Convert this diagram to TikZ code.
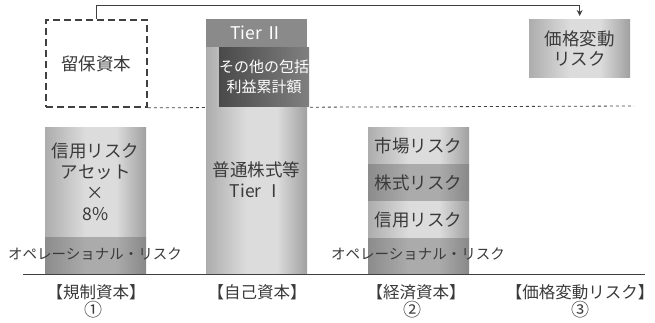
\documentclass[tikz,border=0pt]{standalone}
\usepackage{fontspec}
\setmainfont{Noto Sans CJK JP}
\usetikzlibrary{arrows.meta}
\definecolor{txt}{HTML}{3A3A3A}
\definecolor{lightL}{HTML}{ADADAD}
\definecolor{lightM}{HTML}{DCDCDC}
\definecolor{lightR}{HTML}{A0A0A0}
\definecolor{midL}{HTML}{8C8C8C}
\definecolor{midM}{HTML}{ABABAB}
\definecolor{midR}{HTML}{888888}
\definecolor{darkL}{HTML}{4A4A4A}
\definecolor{darkR}{HTML}{808080}
\definecolor{tierband}{HTML}{8A8A8A}
\definecolor{linecol}{HTML}{404040}
\pgfdeclarehorizontalshading{lightsh}{100bp}{color(0bp)=(lightL); color(25bp)=(lightL); color(45bp)=(lightM); color(60bp)=(lightM); color(75bp)=(lightR); color(100bp)=(lightR)}
\pgfdeclarehorizontalshading{midsh}{100bp}{color(0bp)=(midL); color(25bp)=(midL); color(45bp)=(midM); color(60bp)=(midM); color(75bp)=(midR); color(100bp)=(midR)}
\pgfdeclarehorizontalshading{darksh}{100bp}{color(0bp)=(darkL); color(25bp)=(darkL); color(75bp)=(darkR); color(100bp)=(darkR)}
\begin{document}
\begin{tikzpicture}[x=1pt,y=-1pt,
  blk/.style={rectangle, inner sep=0pt, anchor=north west, text=txt, align=center, minimum width=101},
  lightblk/.style={blk, shading=lightsh},
  midblk/.style={blk, shading=midsh},
  big/.style={font=\fontsize{17.5}{21}\selectfont},
  small/.style={font=\fontsize{14.5}{18}\selectfont},
  lab/.style={font=\fontsize{16.5}{18}\selectfont, text=txt, inner sep=0pt},
  num/.style={font=\fontsize{18}{18}\selectfont, text=txt, inner sep=0pt}
]
\useasboundingbox (0,0) rectangle (655,323);

% retained capital (dashed box)
\node[blk, big, draw=linecol, line width=1.8pt, dash pattern=on 7pt off 4pt,
      minimum width=101, minimum height=87] (ret) at (45,19) {留保資本};

% thin dashed level line
\coordinate (dashend) at (634,106);
\draw[linecol, line width=0.8pt, dash pattern=on 3pt off 3pt] (ret.south east) -- (dashend);

% price fluctuation risk box
\node[lightblk, minimum height=58, font=\fontsize{17.5}{20}\selectfont] (price) at (529,19) {価格変動\\リスク};

% connector
\draw[linecol, line width=0.9pt, -{Stealth[length=6pt,width=6pt]}, shorten >=3pt]
  (ret.north) -- ++(0,-14) -| (price.north);

% own capital column
\node[lightblk, minimum height=227] (own) at (206,47) {};
\node[blk, big, fill=tierband, minimum height=28, text=white] (tier2) at (206,19) {Tier Ⅱ};
\node[blk, minimum width=88, minimum height=59, shading=darksh,
      text=white, font=\fontsize{15}{20}\selectfont] (oci) at (219,47) {その他の包括\\利益累計額};
\node[big, text=txt, align=center, inner sep=0pt] (owntxt) at (256.5,180) {普通株式等\\Tier Ⅰ};

% regulatory capital column
\node[lightblk, big, minimum height=110] (reg) at (45,127) {信用リスク\\アセット\\×\\8\%};
\node[midblk, minimum height=37] (regop) at (45,237) {};
\node[small, text=txt, inner sep=0pt] (op1) at (95,254) {オペレーショナル・リスク};

% economic capital column
\node[lightblk, big, minimum height=37] (mkt) at (368,127) {市場リスク};
\node[midblk, big, minimum height=37] (eq) at (368,164) {株式リスク};
\node[lightblk, big, minimum height=37] (cr) at (368,201) {信用リスク};
\node[midblk, minimum height=36] (ecop) at (368,238) {};
\node[small, text=txt, inner sep=0pt] (op2) at (418,254) {オペレーショナル・リスク};

% baseline
\coordinate (bl) at (23,274);
\coordinate (br) at (645,274);
\draw[linecol, line width=1pt] (bl) -- (br);

% labels
\node[lab] (l1) at (96,292) {【規制資本】};
\node[num] (n1) at (93,310) {①};
\node[lab] (l2) at (257,292) {【自己資本】};
\node[lab] (l3) at (416,292) {【経済資本】};
\node[num] (n2) at (412,310) {②};
\node[lab] (l4) at (580,292) {【価格変動リスク】};
\node[num] (n3) at (580,310) {③};
\end{tikzpicture}
\end{document}
